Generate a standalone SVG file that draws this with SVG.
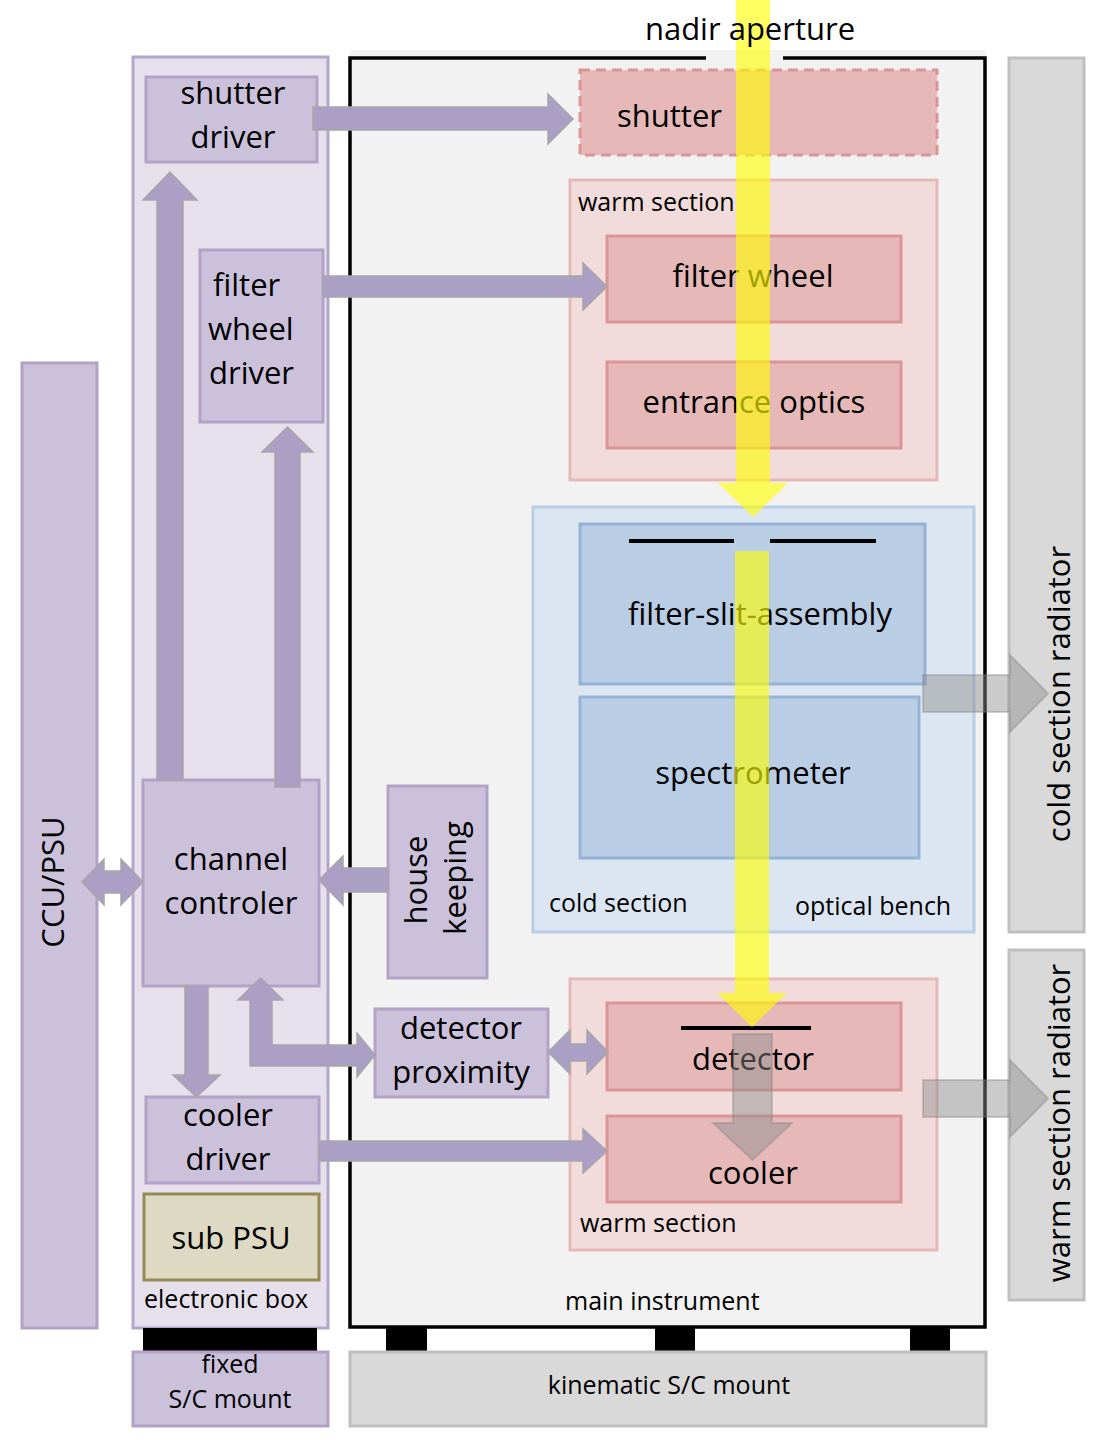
<svg xmlns="http://www.w3.org/2000/svg" width="1098" height="1442" viewBox="0 0 1098 1442">
<style>
text{font-family:"Open Sans","Noto Sans",sans-serif;fill:#000}
.big{font-size:31px}
.sm{font-size:25px}
.mid{text-anchor:middle}
.pbox{fill:#ccc1da;stroke:#b3a2c7;stroke-width:3}
.rbox{fill:#e6b9b8;stroke:#d99694;stroke-width:3}
.warm{fill:#f2dcdb;stroke:#e6b9b8;stroke-width:3}
.bbox{fill:#b9cde5;stroke:#95b3d7;stroke-width:3}
.gbox{fill:#d9d9d9;stroke:#bfbfbf;stroke-width:3}
.parr{fill:#ab9fc6;stroke:#a6a6a6;stroke-width:1.5}
.garr{fill:#8c8c8c;fill-opacity:0.45;stroke:#7f7f7f;stroke-opacity:0.35;stroke-width:2}
.beam{fill:#ffff00;fill-opacity:0.62}
.foot{fill:#000}
</style>

<g id="electronic-box">
<rect x="133" y="57" width="195" height="1271" fill="#e6e0ec" stroke="#b3a6cc" stroke-width="3"/>
<text class="sm" x="144" y="1308">electronic box</text>
</g>

<g id="main-instrument">
<rect x="350" y="50" width="636" height="1278" fill="#f2f2f2"/>
<path d="M706,58 H350 V1327 H985 V58 H783" fill="none" stroke="#000" stroke-width="3.5"/>
<text class="sm" x="565" y="1310">main instrument</text>
</g>

<g id="ccu-psu">
<rect x="22" y="363" width="75" height="965" class="pbox"/>
<text class="big mid" transform="translate(64,882) rotate(-90)">CCU/PSU</text>
</g>

<g id="shutter-driver">
<rect x="146" y="77" width="171" height="85" class="pbox"/>
<text class="big mid" x="233" y="104">shutter</text>
<text class="big mid" x="233" y="148">driver</text>
</g>

<g id="filter-wheel-driver">
<rect x="200" y="250" width="123" height="172" class="pbox"/>
<text class="big" x="213" y="296">filter</text>
<text class="big" x="208" y="340">wheel</text>
<text class="big" x="209" y="384">driver</text>
</g>

<g id="channel-controller">
<rect x="143" y="780" width="176" height="206" class="pbox"/>
<text class="big mid" x="231" y="870">channel</text>
<text class="big mid" x="231" y="914">controler</text>
</g>

<g id="house-keeping">
<rect x="388" y="786" width="99" height="192" class="pbox"/>
<text class="big mid" transform="translate(427,880) rotate(-90)">house</text>
<text class="big mid" transform="translate(466,878) rotate(-90)">keeping</text>
</g>

<g id="detector-proximity">
<rect x="375" y="1009" width="173" height="88" class="pbox"/>
<text class="big mid" x="461" y="1039">detector</text>
<text class="big mid" x="461" y="1083">proximity</text>
</g>

<g id="cooler-driver">
<rect x="146" y="1097" width="173" height="86" class="pbox"/>
<text class="big mid" x="228" y="1126">cooler</text>
<text class="big mid" x="228" y="1170">driver</text>
</g>

<g id="sub-psu">
<rect x="144" y="1194" width="175" height="86" fill="#ddd9c3" stroke="#948a54" stroke-width="3"/>
<text class="big mid" x="231" y="1249">sub PSU</text>
</g>

<g id="shutter">
<rect x="580" y="70" width="357" height="85" class="rbox" stroke-dasharray="10,6"/>
<text class="big" x="617" y="127">shutter</text>
</g>

<g id="warm-section-top">
<rect x="570" y="180" width="367" height="300" class="warm"/>
<text class="sm" x="578" y="211">warm section</text>
</g>

<g id="filter-wheel">
<rect x="607" y="236" width="294" height="86" class="rbox"/>
<text class="big mid" x="753" y="287">filter wheel</text>
</g>

<g id="entrance-optics">
<rect x="607" y="362" width="294" height="86" class="rbox"/>
<text class="big mid" x="754" y="413">entrance optics</text>
</g>

<g id="cold-section">
<rect x="533" y="507" width="441" height="425" fill="#dce6f2" stroke="#b9cde5" stroke-width="3"/>
<text class="sm" x="549" y="912">cold section</text>
<text class="sm" x="795" y="915">optical bench</text>
</g>

<g id="filter-slit-assembly">
<rect x="580" y="524" width="345" height="160" class="bbox"/>
<line x1="629" y1="541" x2="734" y2="541" stroke="#000" stroke-width="4"/>
<line x1="770" y1="541" x2="876" y2="541" stroke="#000" stroke-width="4"/>
<text class="big mid" x="760" y="625">filter-slit-assembly</text>
</g>

<g id="spectrometer">
<rect x="580" y="697" width="339" height="161" class="bbox"/>
<text class="big mid" x="753" y="784">spectrometer</text>
</g>

<g id="warm-section-bottom">
<rect x="570" y="979" width="367" height="271" class="warm"/>
<text class="sm" x="580" y="1232">warm section</text>
</g>

<g id="detector">
<rect x="607" y="1003" width="294" height="87" class="rbox"/>
<line x1="681" y1="1028" x2="811" y2="1028" stroke="#000" stroke-width="4"/>
<text class="big mid" x="753" y="1070">detector</text>
</g>

<g id="cooler">
<rect x="607" y="1116" width="294" height="86" class="rbox"/>
<text class="big mid" x="753" y="1184">cooler</text>
</g>

<g id="cold-section-radiator">
<rect x="1009" y="58" width="75" height="874" class="gbox"/>
<text class="big mid" transform="translate(1070,694) rotate(-90)">cold section radiator</text>
</g>

<g id="warm-section-radiator">
<rect x="1009" y="950" width="75" height="350" class="gbox"/>
<text class="big mid" transform="translate(1070,1123) rotate(-90)">warm section radiator</text>
</g>

<g id="mounts">
<rect x="143" y="1328" width="174" height="24" class="foot"/>
<rect x="386" y="1328" width="41" height="24" class="foot"/>
<rect x="655" y="1328" width="40" height="24" class="foot"/>
<rect x="910" y="1328" width="40" height="24" class="foot"/>
</g>

<g id="fixed-sc-mount">
<rect x="133" y="1352" width="195" height="74" class="pbox"/>
<text class="sm mid" x="230" y="1373">fixed</text>
<text class="sm mid" x="230" y="1408">S/C mount</text>
</g>

<g id="kinematic-sc-mount">
<rect x="350" y="1352" width="636" height="74" class="gbox"/>
<text class="sm mid" x="669" y="1394">kinematic S/C mount</text>
</g>

<g id="connectors">
<polygon class="parr" points="313,107 548,107 548,94 573,119 548,144 548,130 313,130"/>
<polygon class="parr" points="323,276 583,276 583,263 607,286.5 583,310 583,297 323,297"/>
<polygon class="parr" points="319,1141 583,1141 583,1129 607,1151 583,1173 583,1161 319,1161"/>
<polygon class="parr" points="157,780 157,200 143,200 170,172 197,200 183,200 183,780"/>
<polygon class="parr" points="275,787 275,452 262,452 287.5,427 313,452 300,452 300,787"/>
<polygon class="parr" points="185,986 185,1075 173,1075 196.5,1097 220,1075 208,1075 208,986"/>
<polygon class="parr" points="250,1066 250,1000 238,1000 260.5,978 283,1000 272,1000 272,1045 357,1045 357,1033 375,1055 357,1077 357,1066"/>
<polygon class="parr" points="82,882 104,859 104,871 121,871 121,859 143,882 121,905 121,893 104,893 104,905"/>
<polygon class="parr" points="388,868 343,868 343,856 319,880 343,905 343,892 388,892"/>
<polygon class="parr" points="548,1052 570,1030 570,1044 587,1044 587,1030 608,1052 587,1074 587,1061 570,1061 570,1074"/>
<polygon class="garr" points="733,1034 772,1034 772,1123 792,1123 752.5,1160 713,1123 733,1123"/>
<polygon class="garr" points="923,675 1010,675 1010,655 1048,693.5 1010,732 1010,712 923,712"/>
<polygon class="garr" points="923,1080 1010,1080 1010,1060 1048,1098.5 1010,1137 1010,1117 923,1117"/>
<polygon class="beam" points="736,0 770,0 770,483 788,483 753,517 718,483 736,483"/>
<polygon class="beam" points="735,551 769,551 769,993 787,993 752,1027 717,993 735,993"/>
</g>

<g id="nadir-aperture">
<text class="big mid" x="750" y="40">nadir aperture</text>
</g>
</svg>
